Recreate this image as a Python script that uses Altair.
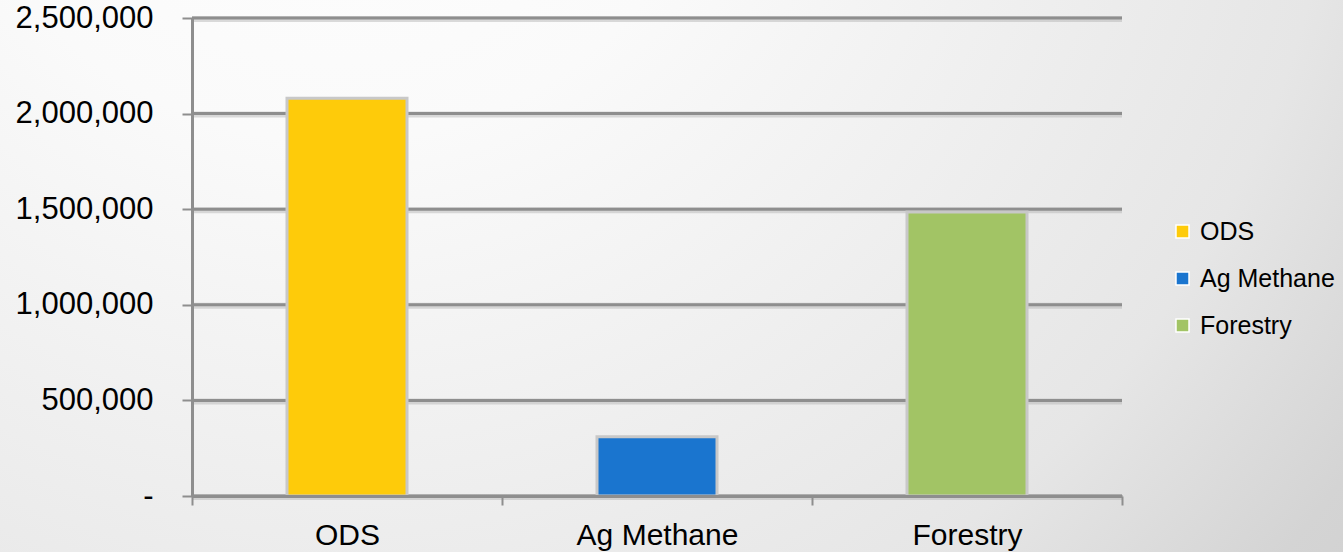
import altair as alt
import pandas as pd

categories = ["ODS", "Ag Methane", "Forestry"]
values = [2080000, 310000, 1485000]
colors = ["#fecb0a", "#1a75cf", "#a2c465"]
grid_values = [0, 500000, 1000000, 1500000, 2000000, 2500000]

W, H = 930, 478
PL, PT, PR, PB = 192, 18, 221, 56

bars_df = pd.DataFrame({"category": categories, "value": values})
grid_df = pd.DataFrame({"v": grid_values})
bg_df = pd.DataFrame({"k": [0]})

font = "Liberation Sans"

bg = alt.Chart(bg_df).mark_rect(
    fill=alt.RadialGradient(
        gradient="radial",
        stops=[alt.GradientStop(color="#ffffff", offset=0),
               alt.GradientStop(color="#fafafa", offset=0.3),
               alt.GradientStop(color="#f1f1f1", offset=0.5),
               alt.GradientStop(color="#e6e6e6", offset=0.75),
               alt.GradientStop(color="#d4d4d4", offset=0.93),
               alt.GradientStop(color="#d1d1d1", offset=1)],
        x1=0.25, y1=0.1, r1=0, x2=0.25, y2=0.1, r2=1,
    )
).encode(
    x=alt.value(-PL), x2=alt.value(W + PR),
    y=alt.value(-PT), y2=alt.value(H + PB),
)

yscale = alt.Scale(domain=[0, 2500000], nice=False)
yaxis = alt.Axis(values=grid_values, labelFont=font, labelFontSize=31,
                 labelColor="#000000",
                 labelExpr="datum.value == 0 ? '-' : format(datum.value, ',')",
                 tickColor="#8e8e8e", tickWidth=2, tickSize=10,
                 domainColor="#8e8e8e", domainWidth=3,
                 labelPadding=29, grid=False, zindex=1)

grid_shadow = alt.Chart(grid_df).mark_rule(
    color="#b0b0b0", strokeWidth=6, opacity=0.45, yOffset=1
).encode(y=alt.Y("v:Q", scale=yscale, axis=yaxis, title=None))

grid = alt.Chart(grid_df).mark_rule(
    color="#8e8e8e", strokeWidth=3
).encode(y=alt.Y("v:Q", scale=yscale, axis=yaxis, title=None))

bars = alt.Chart(bars_df).mark_bar(
    size=120, stroke="#c8c8c8", strokeWidth=3
).encode(
    x=alt.X("category:N", sort=categories, title=None,
            scale=alt.Scale(domain=categories, paddingInner=0, paddingOuter=0),
            axis=alt.Axis(labelAngle=0, labelFont=font, labelFontSize=30,
                          labelColor="#000000", tickBand="extent",
                          tickColor="#8e8e8e", tickWidth=2, tickSize=9,
                          domainColor="#8e8e8e", domainWidth=3,
                          labelPadding=15, grid=False, zindex=1)),
    y=alt.Y("value:Q", scale=yscale, title=None, axis=yaxis),
    color=alt.Color("category:N", sort=categories,
                    scale=alt.Scale(domain=categories, range=colors),
                    legend=alt.Legend(title=None, orient="none",
                                      legendX=978, legendY=201,
                                      labelFont=font, labelFontSize=25,
                                      labelColor="#000000",
                                      symbolType="square", symbolSize=170,
                                      symbolStrokeColor="#ffffff",
                                      symbolStrokeWidth=1.5,
                                      symbolOpacity=1,
                                      labelOffset=5, rowPadding=21,
                                      padding=0)),
)

chart = alt.layer(bg, grid_shadow, grid, bars).resolve_scale(
    y="shared"
).properties(
    width=W, height=H,
    autosize=alt.AutoSizeParams(type="none"),
    padding={"left": PL, "top": PT, "right": PR, "bottom": PB},
).configure_view(stroke=None).configure(background="#ffffff")

chart.save("out.html", embed_options={"renderer": "svg", "actions": False})
